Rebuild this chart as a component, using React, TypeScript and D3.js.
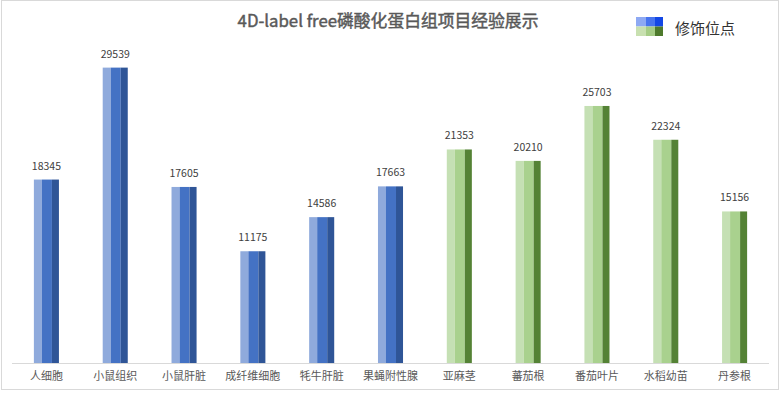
import React, { useRef, useEffect } from "react";
import * as d3 from "d3";

const categories = ["人细胞", "小鼠组织", "小鼠肝脏", "成纤维细胞", "牦牛肝脏", "果蝇附性腺", "亚麻茎", "蕃茄根", "番茄叶片", "水稻幼苗", "丹参根"];
const values = [18345, 29539, 17605, 11175, 14586, 17663, 21353, 20210, 25703, 22324, 15156];
const groups = ["animal", "animal", "animal", "animal", "animal", "animal", "plant", "plant", "plant", "plant", "plant"];

const title = "4D-label free磷酸化蛋白组项目经验展示";
const legendLabel = "修饰位点";

const font = "'Noto Sans CJK SC', 'Noto Sans', sans-serif";

const App = () => {
  const ref = useRef<SVGSVGElement>(null);

  const width = 782;
  const height = 398;
  const left = 12;
  const right = 769;
  const baseline = 363;

  useEffect(() => {
    const svg = d3.select(ref.current);
    svg.selectAll("*").remove();

    const stripes: Record<string, string[]> = {
      animal: ["#8faadc", "#4472c4", "#2f5597"],
      plant: ["#c5e0b4", "#a9d18e", "#548235"],
    };
    const parts = [0.32, 0.4, 0.28];

    // frame
    svg
      .append("rect")
      .attr("x", 1.5)
      .attr("y", 0.5)
      .attr("width", 777)
      .attr("height", 389)
      .attr("fill", "#fff")
      .attr("stroke", "#d9d9d9");

    const x = d3.scaleBand().domain(categories).range([left, right]).paddingInner(0.636).paddingOuter(0.318);
    const y = d3.scaleLinear().domain([0, 35000]).range([baseline, 13]);

    const bw = x.bandwidth();
    const data = categories.map((c, i) => ({ c, v: values[i], g: groups[i] }));

    const bars = svg
      .selectAll("g.bar")
      .data(data)
      .enter()
      .append("g")
      .attr("class", "bar");

    parts.forEach((p, k) => {
      const off = d3.sum(parts.slice(0, k)) * bw;
      bars
        .append("rect")
        .attr("x", (d) => (x(d.c) as number) + off)
        .attr("y", (d) => y(d.v))
        .attr("width", p * bw)
        .attr("height", (d) => baseline - y(d.v))
        .attr("fill", (d) => stripes[d.g][k]);
    });

    bars
      .append("text")
      .attr("x", (d) => (x(d.c) as number) + bw / 2)
      .attr("y", (d) => y(d.v) - 10)
      .attr("text-anchor", "middle")
      .attr("font-size", 10.5)
      .attr("fill", "#404040")
      .text((d) => d.v);

    // axis
    svg
      .append("line")
      .attr("x1", left)
      .attr("x2", right)
      .attr("y1", baseline + 0.5)
      .attr("y2", baseline + 0.5)
      .attr("stroke", "#d9d9d9");

    svg
      .selectAll("text.cat")
      .data(data)
      .enter()
      .append("text")
      .attr("class", "cat")
      .attr("x", (d) => (x(d.c) as number) + bw / 2)
      .attr("y", 380)
      .attr("text-anchor", "middle")
      .attr("font-size", 11)
      .attr("fill", "#595959")
      .text((d) => d.c);

    // title
    svg
      .append("text")
      .attr("x", 388)
      .attr("y", 27)
      .attr("text-anchor", "middle")
      .attr("font-size", 16.8)
      .attr("font-weight", "normal")
      .attr("fill", "#595959")
      .attr("stroke", "#595959")
      .attr("stroke-width", 0.45)
      .text(title);

    // legend
    const lg = svg.append("g").attr("transform", "translate(636,17)");
    const legendRows = [
      ["#8ea9f3", "#4874ee", "#1347e5"],
      ["#c8e0b0", "#a5cc85", "#4e7a2c"],
    ];
    const lw = [10, 9, 8];
    legendRows.forEach((row, r) => {
      let ox = 0;
      row.forEach((col, k) => {
        lg.append("rect")
          .attr("x", ox)
          .attr("y", r * 9.5)
          .attr("width", lw[k])
          .attr("height", 9.5)
          .attr("fill", col);
        ox += lw[k];
      });
    });
    lg.append("text")
      .attr("x", 39)
      .attr("y", 10)
      .attr("dominant-baseline", "central")
      .attr("font-size", 15)
      .attr("fill", "#333")
      .text(legendLabel);
  }, []);

  return (
    <svg
      ref={ref}
      width={width}
      height={height}
      style={{ position: "absolute", left: 0, top: 0, fontFamily: font }}
    />
  );
};

export default App;
